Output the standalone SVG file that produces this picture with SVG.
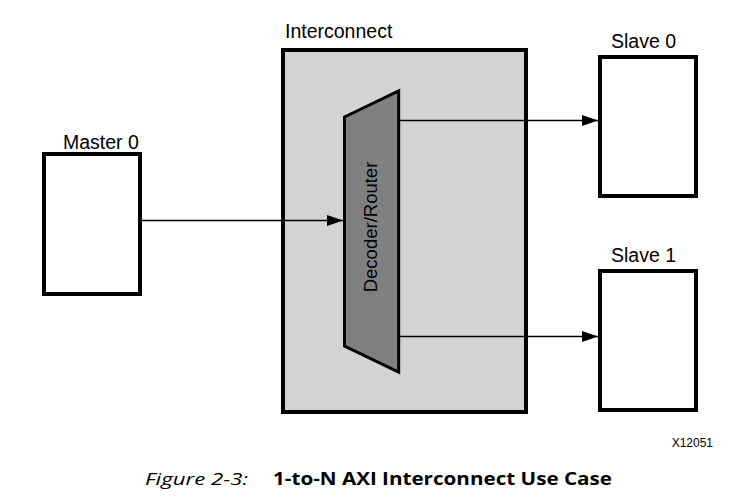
<svg xmlns="http://www.w3.org/2000/svg" width="750" height="500" viewBox="0 0 750 500">
<defs>
<style>
.lbl{font-family:"Liberation Sans",Arial,sans-serif;font-size:19.5px;fill:#000}
.box{fill:#fff;stroke:#000;stroke-width:4}
.conn{stroke:#000;stroke-width:1.3;fill:none}
.cap{font-family:"Open Sans","Noto Sans",sans-serif;font-size:17px;fill:#000}
</style>
<marker id="arr" markerUnits="userSpaceOnUse" markerWidth="16" markerHeight="12" refX="16" refY="6" orient="auto">
<path d="M0,0.5 L16,6 L0,11.5 Z" fill="#000"/>
</marker>
</defs>
<rect width="750" height="500" fill="#fff"/>
<g id="interconnect">
<rect x="283" y="50" width="243" height="362" fill="#d3d3d3" stroke="#000" stroke-width="4"/>
<text class="lbl" x="285" y="38">Interconnect</text>
</g>
<g id="decoder">
<polygon points="344.5,117 398.7,91 398.7,372 344.5,346" fill="#808080" stroke="#000" stroke-width="3" stroke-linejoin="miter"/>
<text class="lbl" text-anchor="middle" transform="translate(377,227) rotate(-90)" style="font-size:18.5px">Decoder/Router</text>
</g>
<g id="master0">
<rect class="box" x="44" y="154" width="96" height="140"/>
<text class="lbl" x="63" y="149">Master 0</text>
</g>
<g id="slave0">
<rect class="box" x="600" y="57" width="96" height="139"/>
<text class="lbl" x="611" y="48">Slave 0</text>
</g>
<g id="slave1">
<rect class="box" x="600" y="271" width="96" height="139"/>
<text class="lbl" x="611" y="262">Slave 1</text>
</g>
<g id="connectors">
<line class="conn" x1="142" y1="220.5" x2="343" y2="220.5" marker-end="url(#arr)"/>
<line class="conn" x1="400" y1="120.5" x2="598" y2="120.5" marker-end="url(#arr)"/>
<line class="conn" x1="400" y1="336.5" x2="598" y2="336.5" marker-end="url(#arr)"/>
</g>
<text x="713" y="447" text-anchor="end" font-family="'Liberation Sans',Arial,sans-serif" font-size="12" fill="#000">X12051</text>
<text class="cap" x="145" y="485" font-style="italic" textLength="103" lengthAdjust="spacingAndGlyphs">Figure 2-3:</text>
<text class="cap" x="273" y="485" font-weight="bold" textLength="339" lengthAdjust="spacingAndGlyphs">1-to-N AXI Interconnect Use Case</text>
</svg>
